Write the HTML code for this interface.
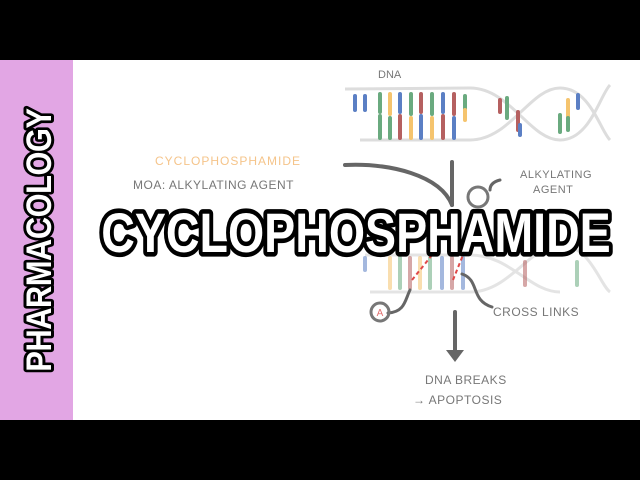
<!DOCTYPE html>
<html><head><style>
html,body{margin:0;padding:0;background:#000;}
svg{display:block}
</style></head><body>
<svg width="640" height="480" xmlns="http://www.w3.org/2000/svg" font-family="Liberation Sans, sans-serif">
<rect x="0" y="0" width="640" height="480" fill="#000"/>
<rect x="0" y="60" width="640" height="360" fill="#fff"/>
<rect x="0" y="60" width="73" height="360" fill="#e2a6e4"/>
<text transform="translate(51,240) rotate(-90) scale(0.88,1)" text-anchor="middle" font-size="35" font-weight="bold" fill="#fff" stroke="#000" stroke-width="6" paint-order="stroke" stroke-linejoin="round" letter-spacing="-0.5">PHARMACOLOGY</text>

<!-- top DNA -->
<g stroke="#ddd" stroke-width="3" fill="none">
<path d="M345 89 L470 88 C510 88 530 140 560 140 C590 140 600 95 610 85"/>
<path d="M360 140 L470 140 C510 140 530 88 560 88 C590 88 600 130 610 140"/>
</g>
<g stroke-width="4" stroke-linecap="round">
<line x1="355" y1="96" x2="355" y2="110" stroke="#5b7fc4"/>
<line x1="365" y1="96" x2="365" y2="110" stroke="#5b7fc4"/>
<line x1="380" y1="94" x2="380" y2="112" stroke="#6aaa7f"/><line x1="380" y1="116" x2="380" y2="138" stroke="#6aaa7f"/>
<line x1="390" y1="94" x2="390" y2="114" stroke="#f5c46e"/><line x1="390" y1="118" x2="390" y2="138" stroke="#6aaa7f"/>
<line x1="400" y1="94" x2="400" y2="112" stroke="#5b7fc4"/><line x1="400" y1="116" x2="400" y2="138" stroke="#b56060"/>
<line x1="411" y1="94" x2="411" y2="114" stroke="#6aaa7f"/><line x1="411" y1="118" x2="411" y2="138" stroke="#f5c46e"/>
<line x1="421" y1="94" x2="421" y2="112" stroke="#b56060"/><line x1="421" y1="116" x2="421" y2="138" stroke="#5b7fc4"/>
<line x1="432" y1="94" x2="432" y2="114" stroke="#6aaa7f"/><line x1="432" y1="118" x2="432" y2="138" stroke="#f5c46e"/>
<line x1="443" y1="94" x2="443" y2="112" stroke="#5b7fc4"/><line x1="443" y1="116" x2="443" y2="138" stroke="#b56060"/>
<line x1="454" y1="94" x2="454" y2="114" stroke="#b56060"/><line x1="454" y1="118" x2="454" y2="138" stroke="#5b7fc4"/>
<line x1="465" y1="96" x2="465" y2="110" stroke="#6aaa7f"/><line x1="465" y1="110" x2="465" y2="120" stroke="#f5c46e"/>
<line x1="500" y1="100" x2="500" y2="112" stroke="#b56060"/>
<line x1="507" y1="98" x2="507" y2="118" stroke="#6aaa7f"/>
<line x1="518" y1="112" x2="518" y2="130" stroke="#b56060"/>
<line x1="520" y1="125" x2="520" y2="135" stroke="#5b7fc4"/>
<line x1="560" y1="115" x2="560" y2="132" stroke="#6aaa7f"/>
<line x1="568" y1="100" x2="568" y2="118" stroke="#f5c46e"/>
<line x1="568" y1="118" x2="568" y2="130" stroke="#6aaa7f"/>
<line x1="578" y1="95" x2="578" y2="108" stroke="#5b7fc4"/>
</g>
<text x="378" y="78" font-size="11" fill="#777">DNA</text>

<!-- bottom DNA -->
<g stroke="#e4e4e4" stroke-width="3" fill="none">
<path d="M370 292 L470 292 C510 292 530 245 560 245 C590 245 600 285 610 292"/>
<path d="M365 255 L470 255 C510 255 530 292 560 292"/>
</g>
<g stroke-width="4" stroke-linecap="round" opacity="0.55">
<line x1="365" y1="258" x2="365" y2="270" stroke="#5b7fc4"/>
<line x1="390" y1="258" x2="390" y2="288" stroke="#f5c46e"/>
<line x1="400" y1="258" x2="400" y2="288" stroke="#6aaa7f"/>
<line x1="410" y1="258" x2="410" y2="288" stroke="#b56060"/>
<line x1="420" y1="258" x2="420" y2="288" stroke="#f5c46e"/>
<line x1="430" y1="258" x2="430" y2="288" stroke="#6aaa7f"/>
<line x1="442" y1="258" x2="442" y2="288" stroke="#5b7fc4"/>
<line x1="452" y1="258" x2="452" y2="288" stroke="#b56060"/>
<line x1="463" y1="258" x2="463" y2="288" stroke="#5b7fc4"/>
<line x1="525" y1="262" x2="525" y2="285" stroke="#b56060"/>
<line x1="577" y1="262" x2="577" y2="285" stroke="#6aaa7f"/>
</g>
<g stroke="#e04848" stroke-width="2" stroke-dasharray="4,3">
<line x1="412" y1="280" x2="432" y2="255"/>
<line x1="453" y1="280" x2="463" y2="255"/>
</g>

<!-- arrows -->
<g stroke="#666" stroke-width="4" fill="none" stroke-linecap="round">
<path d="M345 165 C390 163 440 175 452 205"/>
<line x1="452" y1="162" x2="452" y2="205"/>
<line x1="455" y1="312" x2="455" y2="350"/>
<path d="M462 274 C480 280 470 300 492 307" stroke-width="3"/>
<path d="M388 313 C405 312 405 300 410 290" stroke-width="3"/>
<path d="M500 180 C492 182 490 186 490 190" stroke-width="3"/>
</g>
<path d="M446 350 L464 350 L455 362 Z" fill="#666"/>
<circle cx="478" cy="197" r="10" fill="none" stroke="#777" stroke-width="3"/>
<circle cx="380" cy="312" r="9" fill="none" stroke="#777" stroke-width="3"/>
<text x="380" y="316" font-size="10" fill="#e07070" text-anchor="middle">A</text>

<text x="155" y="165" font-size="12" fill="#f5c48a" letter-spacing="1">CYCLOPHOSPHAMIDE</text>
<text x="133" y="189" font-size="12" fill="#777" letter-spacing="0.5">MOA: ALKYLATING AGENT</text>
<text x="520" y="178" font-size="11" fill="#777" letter-spacing="0.5">ALKYLATING</text>
<text x="533" y="193" font-size="11" fill="#777" letter-spacing="0.5">AGENT</text>
<text x="493" y="316" font-size="12" fill="#777" letter-spacing="0.5">CROSS LINKS</text>
<text x="425" y="384" font-size="12" fill="#777" letter-spacing="0.5">DNA BREAKS</text>
<text x="413" y="404" font-size="12" fill="#777" letter-spacing="0.5">→ APOPTOSIS</text>

<text transform="translate(356,252) scale(0.97,1.15)" text-anchor="middle" font-size="48" font-weight="bold" fill="#fff" stroke="#000" stroke-width="8" paint-order="stroke" stroke-linejoin="round">CYCLOPHOSPHAMIDE</text>
</svg>
</body></html>
